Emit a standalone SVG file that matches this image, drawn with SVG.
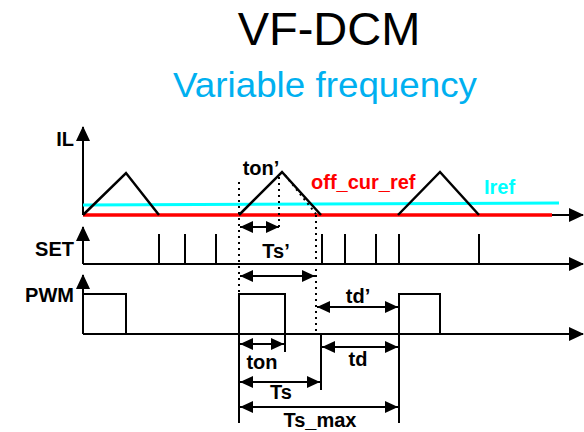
<svg xmlns="http://www.w3.org/2000/svg" width="584" height="432" viewBox="0 0 584 432">
<style>
.ln{stroke:#000;stroke-width:2;fill:none}
.wave{stroke:#000;stroke-width:2.5;fill:none;stroke-linejoin:miter}
.dot{stroke:#000;stroke-width:2;fill:none;stroke-dasharray:2 4}
.lbl{font-family:"Liberation Sans",Arial,sans-serif;font-weight:bold;font-size:20px;fill:#000}
.ax{marker-end:url(#axh)}
.dim{marker-start:url(#dh);marker-end:url(#dh)}
</style>
<defs>
<marker id="axh" markerUnits="userSpaceOnUse" markerWidth="15" markerHeight="14" refX="14" refY="7" orient="auto">
<path d="M0,0 L15,7 L0,14 z" fill="#000"/>
</marker>
<marker id="dh" markerUnits="userSpaceOnUse" markerWidth="13" markerHeight="12" refX="13" refY="6" orient="auto-start-reverse">
<path d="M0,0 L13,6 L0,12 z" fill="#000"/>
</marker>
</defs>
<rect width="584" height="432" fill="#fff"/>
<g id="title">
<text x="329" y="45" text-anchor="middle" font-family="Liberation Sans, Arial, sans-serif" font-size="47" fill="#000">VF-DCM</text>
<text x="325" y="97" text-anchor="middle" font-family="Liberation Sans, Arial, sans-serif" font-size="35" fill="#00B0F0" textLength="304" lengthAdjust="spacingAndGlyphs">Variable frequency</text>
</g>
<g id="axes">
<line class="ln ax" x1="83" y1="215" x2="83" y2="127"/>
<line class="ln ax" x1="83" y1="215" x2="583" y2="215"/>
<line class="ln ax" x1="83" y1="264" x2="83" y2="227"/>
<line class="ln ax" x1="83" y1="264" x2="583" y2="264"/>
<line class="ln ax" x1="83" y1="334" x2="83" y2="275"/>
<line class="ln ax" x1="83" y1="334" x2="583" y2="334"/>
<text class="lbl" x="74" y="146" text-anchor="end">IL</text>
<text class="lbl" x="74" y="256" text-anchor="end">SET</text>
<text class="lbl" x="74" y="302" text-anchor="end">PWM</text>
</g>
<g id="references">
<line x1="83" y1="205" x2="559" y2="203" stroke="#00FFFF" stroke-width="3"/>
<line x1="83" y1="215" x2="552" y2="215" stroke="#FF0000" stroke-width="3.5"/>
<text class="lbl" x="311" y="189" fill="#FF0000" style="fill:#FF0000">off_cur_ref</text>
<text class="lbl" x="484" y="194" style="fill:#00FFFF">Iref</text>
</g>
<g id="il-wave">
<polyline class="wave" points="83,215 126,173 159,215"/>
<polyline class="wave" points="239,215 282,172 321,215"/>
<polyline class="wave" points="398,215 440,172 479,215"/>
</g>
<g id="set-wave">
<line class="ln" x1="159" y1="234" x2="159" y2="264"/>
<line class="ln" x1="185" y1="234" x2="185" y2="264"/>
<line class="ln" x1="216" y1="234" x2="216" y2="264"/>
<line class="ln" x1="322" y1="234" x2="322" y2="264"/>
<line class="ln" x1="345" y1="234" x2="345" y2="264"/>
<line class="ln" x1="376" y1="234" x2="376" y2="264"/>
<line class="ln" x1="399" y1="234" x2="399" y2="264"/>
<line class="ln" x1="479" y1="234" x2="479" y2="264"/>
</g>
<g id="pwm-wave">
<polyline class="ln" points="83,294 126,294 126,334"/>
<polyline class="ln" points="239,423 239,294 285,294 285,352"/>
<polyline class="ln" points="399,423 399,294 440,294 440,334"/>
<line class="ln" x1="321" y1="334" x2="321" y2="390"/>
</g>
<g id="guides">
<line class="dot" x1="239" y1="182" x2="239" y2="293"/>
<line class="dot" x1="279" y1="177" x2="279" y2="231"/>
<line class="dot" x1="316" y1="215" x2="316" y2="333"/>
<line class="dot" x1="285" y1="175" x2="316" y2="214"/>
</g>
<g id="dimensions">
<line class="ln dim" x1="240" y1="227" x2="279" y2="227"/>
<text class="lbl" x="261" y="175" text-anchor="middle">ton’</text>
<line class="ln dim" x1="240" y1="276" x2="315" y2="276"/>
<text class="lbl" x="276" y="258" text-anchor="middle">Ts’</text>
<line class="ln dim" x1="317" y1="307" x2="398" y2="307"/>
<text class="lbl" x="358" y="303" text-anchor="middle">td’</text>
<line class="ln dim" x1="240" y1="344" x2="284" y2="344"/>
<text class="lbl" x="262" y="369" text-anchor="middle">ton</text>
<line class="ln dim" x1="322" y1="347" x2="398" y2="347"/>
<text class="lbl" x="358" y="366" text-anchor="middle">td</text>
<line class="ln dim" x1="240" y1="382" x2="320" y2="382"/>
<text class="lbl" x="281" y="399" text-anchor="middle">Ts</text>
<line class="ln dim" x1="240" y1="407" x2="398" y2="407"/>
<text class="lbl" x="320" y="427" text-anchor="middle">Ts_max</text>
</g>
</svg>
